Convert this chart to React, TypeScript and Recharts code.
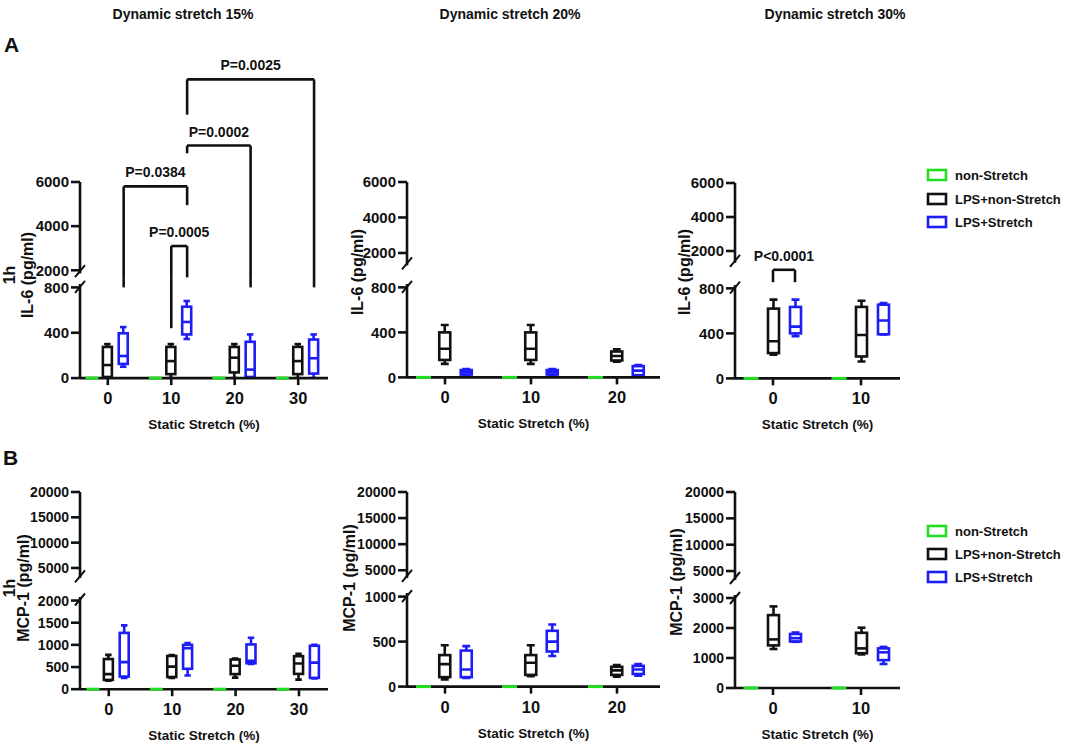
import React from "react";
import { BarChart, Bar, XAxis, YAxis, ReferenceLine } from "recharts";

const FONT = '"Liberation Sans", Arial, Helvetica, sans-serif';
const GREEN = "#22dd22";
const BLACK = "#111111";
const BLUE = "#1d1df5";
const LW = 2.6;

// static stretch levels for each dynamic stretch column
const STATIC_15 = ["0", "10", "20", "30"];
const STATIC_20 = ["0", "10", "20"];
const STATIC_30 = ["0", "10"];

const SERIES_NAMES = ["non-Stretch", "LPS+non-Stretch", "LPS+Stretch"];
const SERIES_COLORS = [GREEN, BLACK, BLUE];

// box = [min, q1, median, q3, max] in pg/ml
type Box = [number, number, number, number, number];
const Z: Box = [0, 0, 0, 0, 0];

// IL-6, 1h
const IL6_15_NON: Box[] = [Z, Z, Z, Z];
const IL6_15_LPS: Box[] = [[0, 10, 115, 275, 300], [0, 35, 150, 275, 300], [0, 50, 180, 275, 300], [0, 35, 150, 275, 300]];
const IL6_15_STR: Box[] = [[100, 125, 195, 395, 450], [345, 385, 495, 630, 680], [0, 10, 75, 320, 385], [0, 40, 175, 340, 385]];

const IL6_20_NON: Box[] = [Z, Z, Z];
const IL6_20_LPS: Box[] = [[120, 155, 255, 400, 465], [120, 155, 255, 400, 465], [140, 150, 190, 230, 250]];
const IL6_20_STR: Box[] = [[15, 25, 45, 65, 75], [15, 25, 45, 65, 75], [15, 20, 60, 100, 110]];

const IL6_30_NON: Box[] = [Z, Z];
const IL6_30_LPS: Box[] = [[210, 225, 330, 620, 700], [150, 195, 385, 635, 690]];
const IL6_30_STR: Box[] = [[375, 400, 460, 635, 700], [390, 392, 515, 655, 670]];

// MCP-1, 1h
const MCP1_15_NON: Box[] = [Z, Z, Z, Z];
const MCP1_15_LPS: Box[] = [[190, 210, 340, 680, 775], [255, 275, 510, 750, 770], [260, 340, 530, 670, 690], [215, 345, 580, 745, 800]];
const MCP1_15_STR: Box[] = [[255, 285, 610, 1270, 1440], [310, 460, 925, 1000, 1040], [570, 585, 640, 1010, 1160], [240, 255, 600, 980, 1000]];

const MCP1_20_NON: Box[] = [Z, Z, Z];
const MCP1_20_LPS: Box[] = [[80, 105, 250, 350, 460], [115, 130, 265, 350, 460], [110, 130, 180, 220, 240]];
const MCP1_20_STR: Box[] = [[95, 105, 190, 400, 450], [340, 390, 500, 620, 690], [120, 140, 190, 230, 250]];

const MCP1_30_NON: Box[] = [Z, Z];
const MCP1_30_LPS: Box[] = [[1300, 1420, 1620, 2430, 2720], [1120, 1160, 1320, 1840, 2010]];
const MCP1_30_STR: Box[] = [[1540, 1550, 1660, 1800, 1850], [800, 930, 1190, 1320, 1370]];

// significance brackets: slot keys are `${static}-${seriesIndex}`
type End = { seg: "up" | "low"; v: number };
type Bracket = { label: string; a: string; b: string; level: End; endA: End; endB: End };

const BRACKETS_IL6_15: Bracket[] = [
  { label: "P=0.0384", a: "0-2", b: "10-2", level: { seg: "up", v: 5800 }, endA: { seg: "low", v: 800 }, endB: { seg: "up", v: 4950 } },
  { label: "P=0.0005", a: "10-1", b: "10-2", level: { seg: "up", v: 3100 }, endA: { seg: "low", v: 440 }, endB: { seg: "up", v: 1680 } },
  { label: "P=0.0002", a: "10-2", b: "20-2", level: { seg: "up", v: 7650 }, endA: { seg: "up", v: 7300 }, endB: { seg: "low", v: 800 } },
  { label: "P=0.0025", a: "10-2", b: "30-2", level: { seg: "up", v: 10650 }, endA: { seg: "up", v: 9050 }, endB: { seg: "low", v: 800 } },
];
const BRACKETS_IL6_30: Bracket[] = [
  { label: "P<0.0001", a: "0-1", b: "0-2", level: { seg: "low", v: 965 }, endA: { seg: "low", v: 855 }, endB: { seg: "low", v: 855 } },
];

type Slot = { key: string; label: string; box: Box | null; series: number };

function buildSlots(cats: string[], groups: Box[][]): Slot[] {
  const rows: Slot[] = [];
  cats.forEach((c, i) => {
    if (i > 0) rows.push({ key: `${c}-gap`, label: "", box: null, series: -1 });
    groups.forEach((g, j) => rows.push({ key: `${c}-${j}`, label: j === 1 ? c : "", box: g[i], series: j }));
  });
  return rows;
}

type Seg = { domain: [number, number]; ticks: number[]; top: number; bottom: number };
type Panel = {
  id: string;
  slots: Slot[];
  axisX: number;
  axisEnd: number;
  padL: number;
  padR: number;
  barSize: number;
  tickFont: number;
  up: Seg;
  low: Seg;
  upRoom: number;
  lowRoom: number;
  brackets: Bracket[];
};

const PANELS: Panel[] = [
  {
    id: "il6-15", slots: buildSlots(STATIC_15, [IL6_15_NON, IL6_15_LPS, IL6_15_STR]),
    axisX: 80, axisEnd: 328, padL: 4, padR: 6, barSize: 9, tickFont: 15,
    up: { domain: [1860, 6000], ticks: [2000, 4000, 6000], top: 181.7, bottom: 273.1 },
    low: { domain: [0, 830], ticks: [0, 400, 800], top: 283.9, bottom: 378 },
    upRoom: 135, lowRoom: 14, brackets: BRACKETS_IL6_15,
  },
  {
    id: "il6-20", slots: buildSlots(STATIC_20, [IL6_20_NON, IL6_20_LPS, IL6_20_STR]),
    axisX: 407, axisEnd: 660, padL: 5.75, padR: 10.75, barSize: 11, tickFont: 15,
    up: { domain: [1300, 6000], ticks: [2000, 4000, 6000], top: 182, bottom: 265.4 },
    low: { domain: [0, 830], ticks: [0, 400, 800], top: 283.9, bottom: 377.3 },
    upRoom: 12, lowRoom: 14, brackets: [],
  },
  {
    id: "il6-30", slots: buildSlots(STATIC_30, [IL6_30_NON, IL6_30_LPS, IL6_30_STR]),
    axisX: 735, axisEnd: 900, padL: 5, padR: 6, barSize: 11, tickFont: 15,
    up: { domain: [1300, 6000], ticks: [2000, 4000, 6000], top: 183, bottom: 262.9 },
    low: { domain: [0, 830], ticks: [0, 400, 800], top: 284.6, bottom: 378 },
    upRoom: 12, lowRoom: 42, brackets: BRACKETS_IL6_30,
  },
  {
    id: "mcp-15", slots: buildSlots(STATIC_15, [MCP1_15_NON, MCP1_15_LPS, MCP1_15_STR]),
    axisX: 80, axisEnd: 328, padL: 5, padR: 5.25, barSize: 9, tickFont: 14,
    up: { domain: [3000, 20000], ticks: [5000, 10000, 15000, 20000], top: 492.3, bottom: 578.4 },
    low: { domain: [0, 2080], ticks: [0, 500, 1000, 1500, 2000], top: 596.5, bottom: 688.7 },
    upRoom: 12, lowRoom: 14, brackets: [],
  },
  {
    id: "mcp-20", slots: buildSlots(STATIC_20, [MCP1_20_NON, MCP1_20_LPS, MCP1_20_STR]),
    axisX: 407, axisEnd: 660, padL: 5.75, padR: 10.75, barSize: 11, tickFont: 14,
    up: { domain: [3500, 20000], ticks: [5000, 10000, 15000, 20000], top: 491.7, bottom: 577.8 },
    low: { domain: [0, 1040], ticks: [0, 500, 1000], top: 593.1, bottom: 686.7 },
    upRoom: 12, lowRoom: 14, brackets: [],
  },
  {
    id: "mcp-30", slots: buildSlots(STATIC_30, [MCP1_30_NON, MCP1_30_LPS, MCP1_30_STR]),
    axisX: 735, axisEnd: 900, padL: 5, padR: 6, barSize: 11, tickFont: 14,
    up: { domain: [3300, 20000], ticks: [5000, 10000, 15000, 20000], top: 492, bottom: 580 },
    low: { domain: [0, 3100], ticks: [0, 1000, 2000, 3000], top: 595, bottom: 688 },
    upRoom: 12, lowRoom: 14, brackets: [],
  },
];

const COLUMN_TITLES = [
  { text: "Dynamic stretch 15%", x: 183 },
  { text: "Dynamic stretch 20%", x: 510 },
  { text: "Dynamic stretch 30%", x: 835 },
];

const Y_TITLES = [
  { lines: ["1h", "IL-6 (pg/ml)"], xs: [15, 33], cy: 275 },
  { lines: ["IL-6 (pg/ml)"], xs: [363], cy: 272 },
  { lines: ["IL-6 (pg/ml)"], xs: [690], cy: 272 },
  { lines: ["1h", "MCP-1 (pg/ml)"], xs: [15, 29], cy: 588 },
  { lines: ["MCP-1 (pg/ml)"], xs: [355], cy: 578 },
  { lines: ["MCP-1 (pg/ml)"], xs: [682], cy: 582 },
];

const LEGEND_ROWS = [[175, 199, 222], [531, 554, 577]];

function valAt(seg: Seg, px: number) {
  const [d0, d1] = seg.domain;
  return d1 - ((px - seg.top) * (d1 - d0)) / (seg.bottom - seg.top);
}

type Piece = { x1: string; x2: string; y1: number; y2: number; label?: string };

function bracketPieces(p: Panel, which: "up" | "low"): Piece[] {
  const gapV = valAt(p[which], (p.up.bottom + p.low.top) / 2);
  const out: Piece[] = [];
  p.brackets.forEach((br) => {
    if (br.level.seg === which) out.push({ x1: br.a, x2: br.b, y1: br.level.v, y2: br.level.v, label: br.label });
    const legs: [string, End][] = [[br.a, br.endA], [br.b, br.endB]];
    legs.forEach(([x, end]) => {
      if (br.level.seg === which && end.seg === which) out.push({ x1: x, x2: x, y1: br.level.v, y2: end.v });
      else if (br.level.seg === "up" && end.seg === "low") {
        if (which === "up") out.push({ x1: x, x2: x, y1: br.level.v, y2: gapV });
        else out.push({ x1: x, x2: x, y1: gapV, y2: end.v });
      }
    });
  });
  return out;
}

function BoxShape(props: any) {
  const { x, y, width, height, payload } = props;
  const b: Box | null = payload ? payload.box : null;
  // the flat non-Stretch boxes are drawn with the axis ticks so they sit on top of the axis line
  if (!b || payload.series === 0) return <g />;
  const top = Math.min(y, y + height);
  const bot = Math.max(y, y + height);
  const span = b[4] - b[0];
  const py = (v: number) => (span > 0 ? bot - ((v - b[0]) / span) * (bot - top) : bot);
  const color = SERIES_COLORS[payload.series];
  const cx = x + width / 2;
  const cap = width * 0.72;
  return (
    <g stroke={color} strokeWidth={LW} fill="none">
      <line x1={cx} x2={cx} y1={py(b[4])} y2={py(b[3])} />
      <line x1={cx} x2={cx} y1={py(b[1])} y2={py(b[0])} />
      <line x1={cx - cap / 2} x2={cx + cap / 2} y1={py(b[4])} y2={py(b[4])} />
      <line x1={cx - cap / 2} x2={cx + cap / 2} y1={py(b[0])} y2={py(b[0])} />
      <rect x={x} y={py(b[3])} width={width} height={Math.max(0.5, py(b[1]) - py(b[3]))} />
      <line x1={x} x2={x + width} y1={py(b[2])} y2={py(b[2])} />
    </g>
  );
}

const boxRange = (d: Slot) => (d.box ? [d.box[0], d.box[4]] : null);

function SegmentChart({ p, which }: { p: Panel; which: "up" | "low" }) {
  const seg = p[which];
  const isLow = which === "low";
  const YW = 70;
  const mRight = 8;
  const mTop = isLow ? p.lowRoom : p.upRoom;
  const mBottom = isLow ? 0 : 12;
  const XH = isLow ? 56 : 0;
  const plotH = seg.bottom - seg.top;
  const width = YW + (p.axisEnd - p.axisX) + mRight;
  const height = mTop + plotH + XH + mBottom;
  const axisY = mTop + plotH;
  const pieces = bracketPieces(p, which);
  const yOf = (v: number) => axisY - ((v - seg.domain[0]) / (seg.domain[1] - seg.domain[0])) * plotH;

  const renderTick = (props: any) => {
    const slot = p.slots.find((s) => s.key === props.payload.value);
    if (!slot) return <g />;
    if (slot.series === 0 && slot.box) {
      const gy = yOf(slot.box[2]);
      return (
        <line
          x1={props.x - p.barSize / 2 - 2}
          x2={props.x + p.barSize / 2 + 2}
          y1={gy}
          y2={gy}
          stroke={GREEN}
          strokeWidth={3}
        />
      );
    }
    if (!slot.label) return <g />;
    return (
      <g>
        <line x1={props.x} x2={props.x} y1={axisY} y2={axisY + 7} stroke={BLACK} strokeWidth={LW} />
        <text x={props.x} y={axisY + 26} textAnchor="middle" fontSize={16.5} fontWeight={700} fill={BLACK}>
          {slot.label}
        </text>
      </g>
    );
  };

  return (
    <div style={{ position: "absolute", left: p.axisX - YW, top: seg.top - mTop }}>
      <BarChart
        width={width}
        height={height}
        data={p.slots}
        margin={{ top: mTop, right: mRight, bottom: mBottom, left: 0 }}
        barSize={p.barSize}
        barCategoryGap={0}
      >
        <XAxis
          dataKey="key"
          hide={!isLow}
          height={XH}
          padding={{ left: p.padL, right: p.padR }}
          interval={0}
          tickLine={false}
          axisLine={{ stroke: BLACK, strokeWidth: LW }}
          tick={renderTick}
          label={
            isLow
              ? { value: "Static Stretch (%)", position: "insideBottom", offset: 5, fill: BLACK, fontSize: 13.5, fontWeight: 700 }
              : undefined
          }
        />
        <YAxis
          type="number"
          domain={seg.domain}
          ticks={seg.ticks}
          allowDataOverflow
          width={YW}
          tickSize={9}
          tickMargin={2}
          axisLine={{ stroke: BLACK, strokeWidth: LW }}
          tickLine={{ stroke: BLACK, strokeWidth: LW }}
          tick={{ fill: BLACK, fontSize: p.tickFont, fontWeight: 700 }}
        />
        {isLow && <Bar dataKey={boxRange} shape={BoxShape} isAnimationActive={false} />}
        {pieces.map((pc, i) => (
          <ReferenceLine
            key={i}
            segment={[{ x: pc.x1, y: pc.y1 }, { x: pc.x2, y: pc.y2 }]}
            stroke={BLACK}
            strokeWidth={LW}
            ifOverflow="visible"
            label={
              pc.label
                ? { value: pc.label, position: "top", offset: 9, fill: BLACK, fontSize: 14, fontWeight: 700 }
                : undefined
            }
          />
        ))}
      </BarChart>
    </div>
  );
}

function Overlay() {
  return (
    <svg width={1065} height={746} style={{ position: "absolute", left: 0, top: 0, pointerEvents: "none" }}>
      {COLUMN_TITLES.map((t) => (
        <text key={t.text} x={t.x} y={19} textAnchor="middle" fontSize={14} fontWeight={700} fill={BLACK}>
          {t.text}
        </text>
      ))}
      <text x={4} y={52} fontSize={21} fontWeight={700} fill={BLACK}>A</text>
      <text x={3} y={465} fontSize={21} fontWeight={700} fill={BLACK}>B</text>
      {Y_TITLES.map((yt, i) =>
        yt.lines.map((ln, j) => (
          <text
            key={`${i}-${j}`}
            transform={`translate(${yt.xs[j]},${yt.cy}) rotate(-90)`}
            textAnchor="middle"
            fontSize={16}
            fontWeight={700}
            fill={BLACK}
          >
            {ln}
          </text>
        ))
      )}
      {PANELS.map((p) =>
        [p.up.bottom - 2, p.low.top + 3].map((yy, k) => (
          <line
            key={`${p.id}-${k}`}
            x1={p.axisX - 5}
            y1={yy + 6}
            x2={p.axisX + 5}
            y2={yy - 6}
            stroke={BLACK}
            strokeWidth={2}
          />
        ))
      )}
      {LEGEND_ROWS.map((rows, g) =>
        rows.map((cy, i) => (
          <g key={`${g}-${i}`}>
            <rect x={928} y={cy - 5} width={18} height={10} fill="#fff" stroke={SERIES_COLORS[i]} strokeWidth={LW} />
            <text x={955} y={cy + 4.5} fontSize={13} fontWeight={700} fill={BLACK}>
              {SERIES_NAMES[i]}
            </text>
          </g>
        ))
      )}
    </svg>
  );
}

export default function App() {
  return (
    <div
      style={{
        position: "absolute",
        left: 0,
        top: 0,
        width: 1065,
        height: 746,
        background: "#fff",
        fontFamily: FONT,
        fontWeight: 700,
        overflow: "hidden",
      }}
    >
      {PANELS.map((p) => (
        <React.Fragment key={p.id}>
          <SegmentChart p={p} which="up" />
          <SegmentChart p={p} which="low" />
        </React.Fragment>
      ))}
      <Overlay />
    </div>
  );
}
